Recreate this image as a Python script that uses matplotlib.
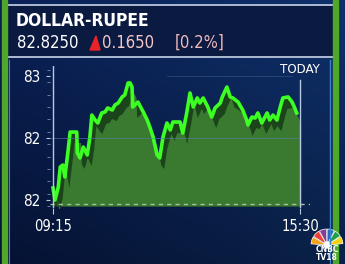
import matplotlib.pyplot as plt
import matplotlib.patches as mpatches
import numpy as np

# minutes since 09:15 and price (INR per USD)
minutes = [0, 3, 8, 11, 15, 18, 23, 26, 36, 37, 41, 46, 52, 56, 59, 64, 68, 74,
           79, 83, 90, 94, 99, 105, 109, 114, 117, 120, 121, 129, 137, 143, 147,
           152, 158, 162, 167, 173, 178, 182, 193, 197, 203, 208, 213, 219, 223,
           228, 235, 241, 246, 254, 257, 264, 269, 273, 281, 288, 294, 296, 302,
           307, 311, 317, 325, 329, 334, 340, 345, 349, 357, 363, 367, 370]
price = [82.097, 82.000, 82.105, 82.266, 82.282, 82.185, 82.403, 82.548, 82.548,
         82.379, 82.339, 82.427, 82.363, 82.508, 82.685, 82.645, 82.621, 82.702,
         82.710, 82.742, 82.726, 82.766, 82.782, 82.831, 82.847, 82.944, 82.944,
         82.911, 82.750, 82.790, 82.710, 82.645, 82.589, 82.508, 82.363, 82.339,
         82.508, 82.621, 82.565, 82.629, 82.629, 82.540, 82.702, 82.863, 82.750,
         82.823, 82.782, 82.823, 82.750, 82.669, 82.742, 82.782, 82.831, 82.911,
         82.831, 82.823, 82.790, 82.726, 82.645, 82.605, 82.669, 82.661, 82.702,
         82.621, 82.702, 82.645, 82.685, 82.645, 82.750, 82.823, 82.831, 82.790,
         82.742, 82.702]
y_ticks = [83.0, 82.5, 82.0]
x_tick_labels = ['09:15', '15:30']
title = 'DOLLAR-RUPEE'
last_price = '82.8250'
change = '0.1650'
change_pct = '[0.2%]'

W, H = 345, 264
fig = plt.figure(figsize=(W / 100, H / 100), dpi=100)

# background
bg = fig.add_axes([0, 0, 1, 1])
grad = np.linspace(0, 1, 100)[:, None] * np.ones((1, 100))
colx = np.linspace(0, 1, 100)[None, :]
r = 0.04 + 0.02 * colx - 0.02 * grad
g = 0.13 + 0.06 * colx - 0.06 * grad
b = 0.34 + 0.08 * colx - 0.14 * grad
bg.imshow(np.dstack([r, g, b]).clip(0, 1), extent=[0, W, H, 0], aspect='auto')
bg.set_xlim(0, W)
bg.set_ylim(H, 0)
bg.axis('off')

# header box
bg.add_patch(mpatches.Rectangle((7, 5), 328, 52, facecolor='#0a1a40',
                                edgecolor='#c8d4e8', linewidth=1.2))
# side green bars
bg.add_patch(mpatches.Rectangle((2, 0), 5, H, color='#4fa82a'))
bg.add_patch(mpatches.Rectangle((333, 0), 5, H, color='#4fa82a'))
bg.plot([330, 330], [60, H], color='#3f7fd0', lw=1)
bg.plot([9, 9], [60, H], color='#3f7fd0', lw=0.8)

fam = ['DejaVu Sans']
cond = dict(family=fam, fontstretch='condensed', va='center', ha='left')
bg.text(16, 21, title, color='white', fontsize=12.5, fontweight='bold', **cond)
bg.text(17, 43, last_price, color='white', fontsize=12, **cond)
bg.add_patch(mpatches.Polygon([[90, 50], [100, 50], [96, 36]], color='#e8232a'))
bg.text(102, 43, change, color='#f4c8c8', fontsize=12, **cond)
bg.text(175, 43, change_pct, color='#f0b8b8', fontsize=12, **cond)

# chart axes: 09:15 at px 53, 15:30 at px 300, 83 at py 76, 82 at py 200
ax_l, ax_r, ax_t, ax_b = 50, 310, 66, 208
ax = fig.add_axes([ax_l / W, 1 - ax_b / H, (ax_r - ax_l) / W, (ax_b - ax_t) / H])
ax.patch.set_alpha(0)
mpp = 375 / 247.0
ax.set_xlim(-(53 - ax_l) * mpp, 375 + (ax_r - 300) * mpp)
upp = 1 / 124.0
ax.set_ylim(83 - (ax_b - 76) * upp, 83 + (76 - ax_t) * upp)
for s in ax.spines.values():
    s.set_visible(False)

t = np.array(minutes, dtype=float)
v = np.array(price)
base = 83 - (206 - 76) * upp
ax.fill_between(t, v, base, color='#1c441b', lw=0)
ax.fill_between(t + 6, v - 0.085, base, color='#3a7a30', lw=0)
ax.plot(t, v, color='#3cff22', lw=2.6, solid_joinstyle='round')

ax.axhline(82.5, color='#5c7aa8', lw=0.7, alpha=0.6, xmax=0.96)
ax.axhline(83.0, color='#5c7aa8', lw=0.6, alpha=0.4, xmin=0.45, xmax=0.93)
ax.axhline(83 - (204 - 76) * upp, color='#a8c0a0', lw=1.0, ls=(0, (3, 3)))
ax.axvline(0, color='#b8c8e0', lw=1.0)
ax.axvline(375, ymax=0.9, color='#b8c8e0', lw=1.0)

ax.set_yticks(y_ticks)
ax.set_yticklabels(['%.0f' % y for y in y_ticks], color='white', fontsize=11,
                   family=fam, fontstretch='condensed')
ax.set_yticks(np.arange(81.95, 83.08, 0.1), minor=True)
ax.set_xticks([0, 375])
ax.set_xticklabels(x_tick_labels, color='white', fontsize=10.5, family=fam,
                   fontstretch='condensed')
ax.tick_params(axis='y', length=3, color='#b8c8e0', pad=4)
ax.tick_params(axis='y', which='minor', length=2, color='#7890b8')
ax.tick_params(axis='x', length=4, color='#b8c8e0', pad=4)
ax.text(375, 83.05, 'TODAY', color='white', fontsize=9.5, family=fam,
        fontstretch='condensed', ha='center', va='center')

# logo
cx, cy = 327, 245
cols = ['#f7a21b', '#ef3f34', '#8b3a96', '#1b6fc1', '#20a04a', '#f4d10a']
for i, c in enumerate(cols):
    a1 = 197 + i * 29
    bg.add_patch(mpatches.Wedge((cx, cy), 16, a1 - 13, a1 + 13, facecolor=c,
                                edgecolor='white', linewidth=0.5))
bg.add_patch(mpatches.Circle((cx, cy), 3, color='white'))
bg.text(327, 249.5, 'CNBC', color='white', fontsize=5.5, fontweight='bold',
        ha='center', va='center', family=fam)
bg.text(327, 257.5, 'TV18', color='white', fontsize=5.5, fontweight='bold',
        ha='center', va='center', family=fam)

fig.savefig('out.png', dpi=100)
